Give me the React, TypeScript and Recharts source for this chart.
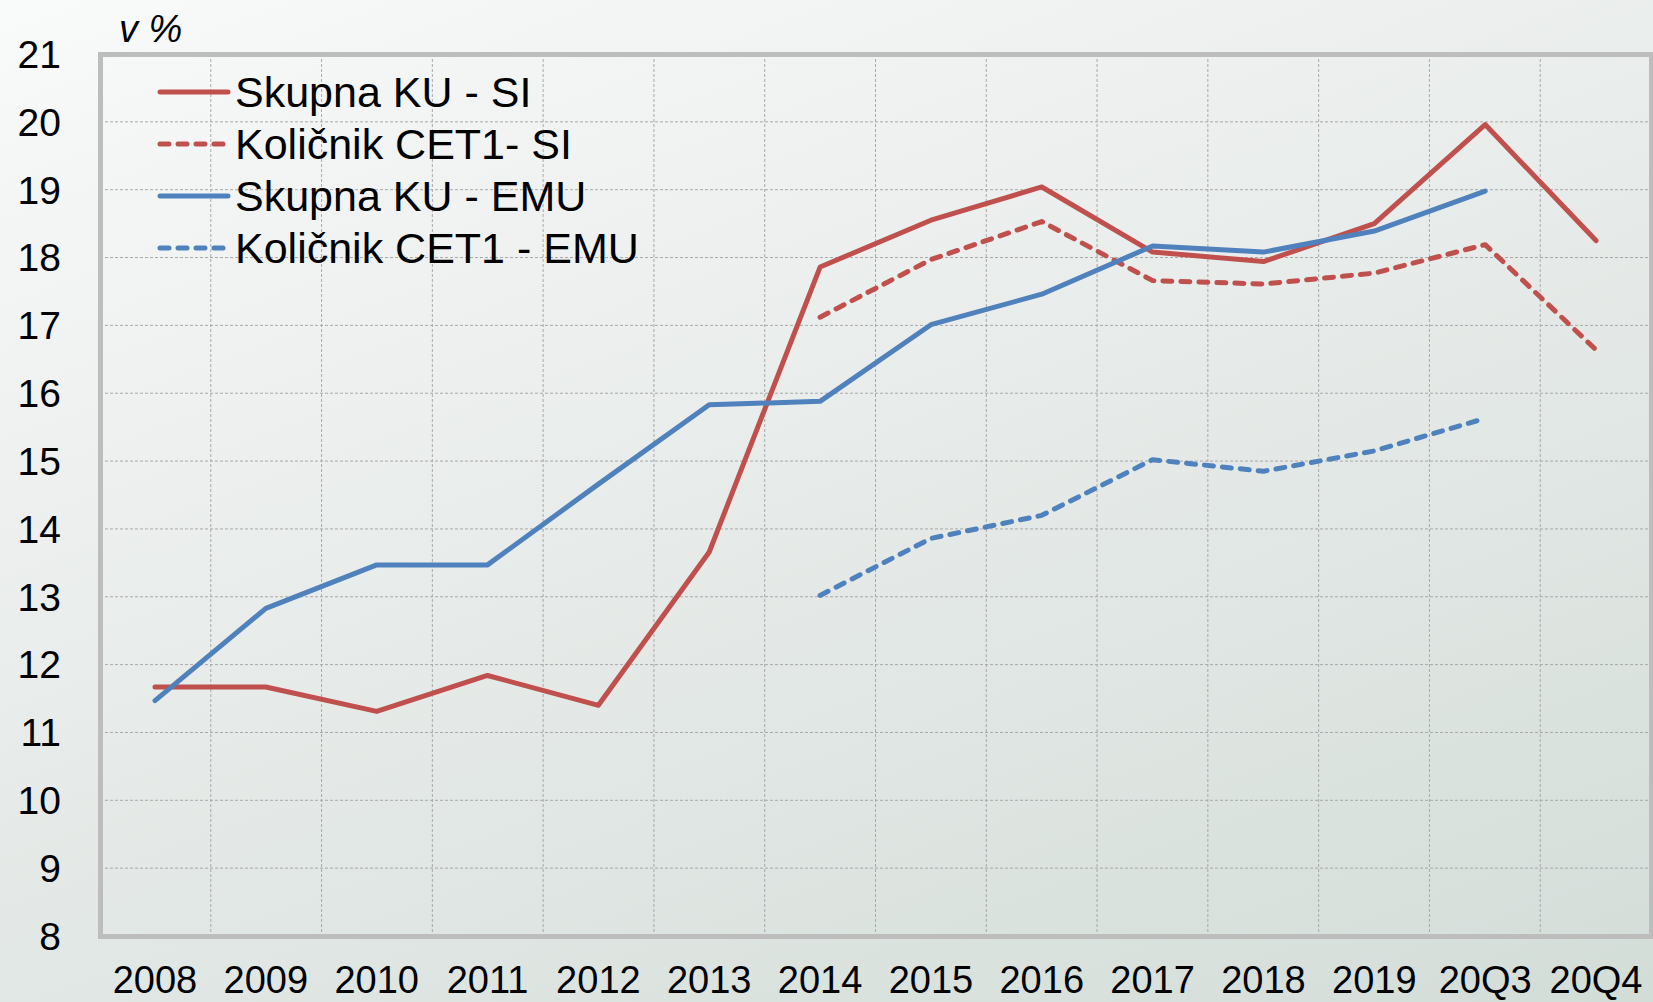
import React from 'react'
import {
  ComposedChart, Line, XAxis, YAxis, CartesianGrid
} from 'recharts'

document.body.style.margin = '0'

const periods = ['2008', '2009', '2010', '2011', '2012', '2013', '2014', '2015', '2016', '2017', '2018', '2019', '20Q3', '20Q4']

const skupnaSI = [11.67, 11.67, 11.31, 11.84, 11.4, 13.66, 17.86, 18.55, 19.04, 18.08, 17.94, 18.5, 19.96, 18.25]
const cet1SI = [null, null, null, null, null, null, 17.12, 17.97, 18.53, 17.66, 17.61, 17.77, 18.19, 16.64]
const skupnaEMU = [11.47, 12.83, 13.47, 13.47, 14.66, 15.83, 15.88, 17.01, 17.46, 18.17, 18.08, 18.39, 18.98, null]
const cet1EMU = [null, null, null, null, null, null, 13.02, 13.86, 14.2, 15.02, 14.85, 15.15, 15.63, null]

const yTicks = [8, 9, 10, 11, 12, 13, 14, 15, 16, 17, 18, 19, 20, 21]

const RED = '#C0504D'
const BLUE = '#4F81BD'
const GRID = '#a9a9a9'
const BORDER = '#bdbdbd'
const FONT = '"Liberation Sans", Arial, sans-serif'

const series = [
  { key: 'skupnaSI', name: 'Skupna KU - SI', color: RED, dash: undefined },
  { key: 'cet1SI', name: 'Količnik CET1- SI', color: RED, dash: '9 9' },
  { key: 'skupnaEMU', name: 'Skupna KU - EMU', color: BLUE, dash: undefined },
  { key: 'cet1EMU', name: 'Količnik CET1 - EMU', color: BLUE, dash: '9 9' },
]

const data = periods.map((p, i) => ({
  period: p,
  skupnaSI: skupnaSI[i],
  cet1SI: cet1SI[i],
  skupnaEMU: skupnaEMU[i],
  cet1EMU: cet1EMU[i],
}))

// gridlines sit between categories, like Excel
const verticalGrid = ({ xAxis, offset }: any) => {
  const scale = xAxis?.scale
  if (scale && typeof scale.step === 'function') {
    const step = scale.step()
    return periods.slice(1).map(p => scale(p) - step / 2)
  }
  const w = offset.width / periods.length
  return periods.slice(1).map((_, i) => offset.left + (i + 1) * w)
}

const LegendBox = () => (
  <div style={{ position: 'absolute', left: 157, top: 66, fontFamily: FONT, pointerEvents: 'none' }}>
    {series.map(s => (
      <div key={s.key} style={{ display: 'flex', alignItems: 'center', height: 52 }}>
        <svg width={78} height={10} style={{ display: 'block' }}>
          <line
            x1={3} y1={5} x2={71} y2={5}
            stroke={s.color} strokeWidth={5}
            strokeDasharray={s.dash}
            strokeLinecap="round"
          />
        </svg>
        <span style={{ fontSize: 43, color: '#000', whiteSpace: 'nowrap' }}>{s.name}</span>
      </div>
    ))}
  </div>
)

export default function App() {
  const yTick = { fill: '#000', fontSize: 39, fontFamily: FONT }
  const xTick = { fill: '#000', fontSize: 38, fontFamily: FONT }
  return (
    <div style={{
      position: 'relative', width: 1653, height: 1002, overflow: 'hidden',
      background: 'linear-gradient(160deg, #f9fafa 0%, #e8ecea 45%, #d3ddd8 100%)'
    }}>
      <div style={{
        position: 'absolute', left: 119, top: 10, fontFamily: FONT,
        fontStyle: 'italic', fontSize: 38, lineHeight: '38px', color: '#000'
      }}>
        v %
      </div>
      <ComposedChart
        width={1653}
        height={1002}
        data={data}
        margin={{ top: 54, right: 2, bottom: 0, left: 0 }}
      >
        <CartesianGrid
          stroke={GRID}
          strokeDasharray="3 2"
          verticalCoordinatesGenerator={verticalGrid}
        />
        <XAxis
          dataKey="period"
          padding={{ left: 55, right: 55 }}
          height={66}
          tick={xTick}
          tickLine={false}
          tickSize={0}
          tickMargin={30}
          axisLine={false}
          interval={0}
        />
        <YAxis
          domain={[8, 21]}
          ticks={yTicks}
          interval={0}
          width={100}
          tick={yTick}
          tickLine={false}
          tickSize={0}
          tickMargin={39}
          axisLine={false}
        />
        {series.map(s => (
          <Line
            key={s.key}
            type="linear"
            dataKey={s.key}
            name={s.name}
            stroke={s.color}
            strokeWidth={5}
            strokeDasharray={s.dash}
            strokeLinecap="round"
            strokeLinejoin="round"
            dot={false}
            activeDot={false}
            connectNulls={false}
            isAnimationActive={false}
          />
        ))}
      </ComposedChart>
      {/* plot frame */}
      <div style={{
        position: 'absolute', left: 97.5, top: 51.5, width: 1556, height: 887,
        boxSizing: 'border-box', border: `5px solid ${BORDER}`, pointerEvents: 'none'
      }} />
      <LegendBox />
    </div>
  )
}
